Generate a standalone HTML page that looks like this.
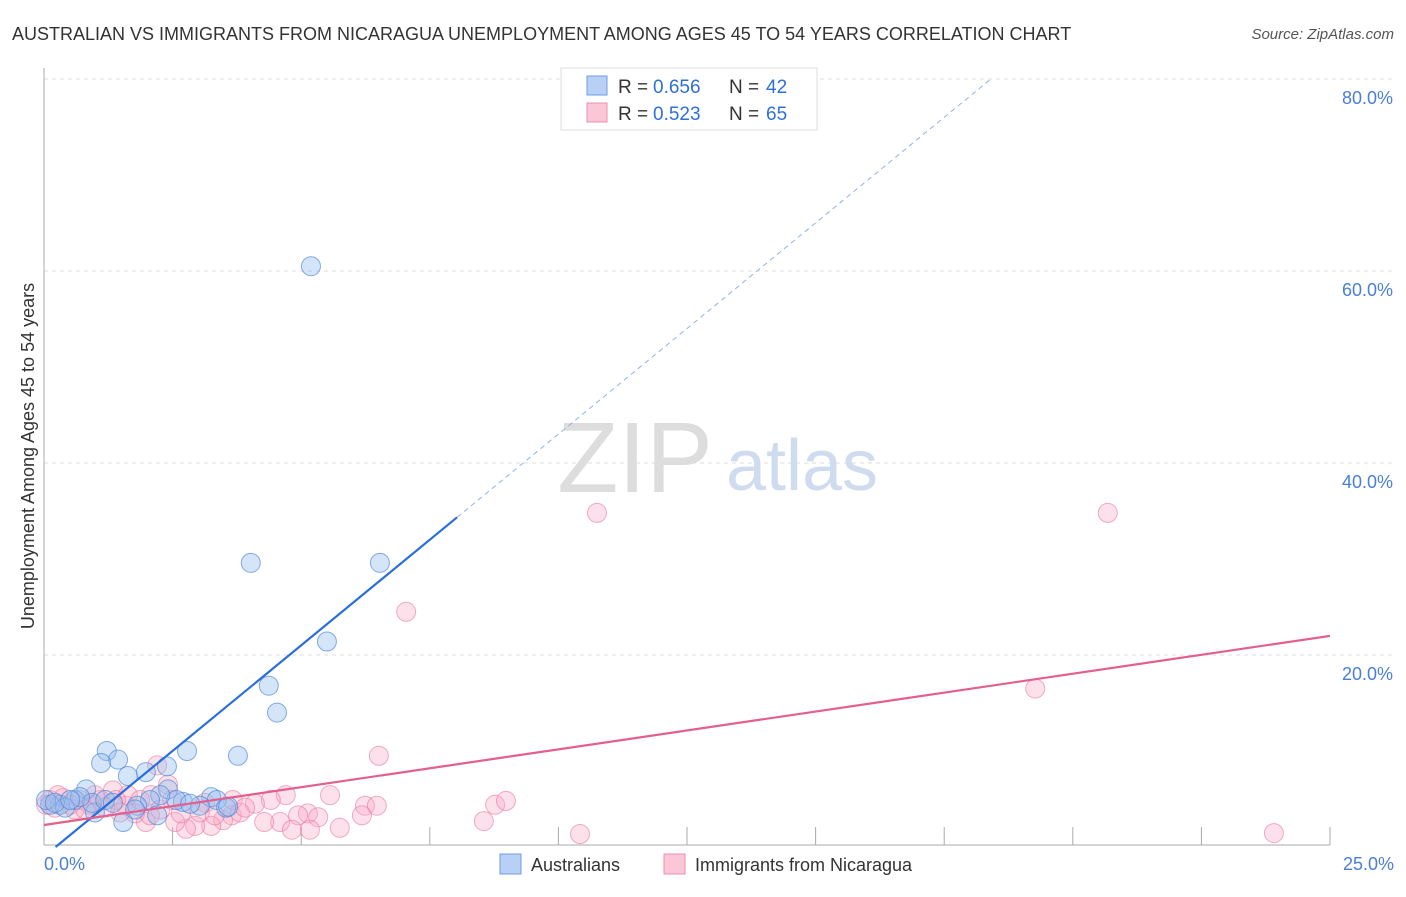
<!DOCTYPE html>
<html><head><meta charset="utf-8"><style>
body{margin:0;background:#fff;font-family:"Liberation Sans",sans-serif;}
svg text{font-family:"Liberation Sans",sans-serif;}
</style></head><body>
<svg width="1406" height="892" id="chart">
<text x="12" y="40" font-size="18" fill="#333">AUSTRALIAN VS IMMIGRANTS FROM NICARAGUA UNEMPLOYMENT AMONG AGES 45 TO 54 YEARS CORRELATION CHART</text>
<text x="1394" y="39" font-size="15" fill="#555" font-style="italic" text-anchor="end">Source: ZipAtlas.com</text>
<g id="grid"></g>
<text x="635" y="492" font-size="100" fill="#ddd" font-family="Liberation Serif" text-anchor="middle">ZIP</text>
<text x="802" y="490" font-size="72" fill="#cfdcef" text-anchor="middle">atlas</text>
<g id="axes"></g>
<g id="marks"></g>
<text x="34" y="456" font-size="18" fill="#333" text-anchor="middle" transform="rotate(-90 34 456)">Unemployment Among Ages 45 to 54 years</text>
<text x="44" y="870" font-size="18" fill="#4a7fd4">0.0%</text>
<text x="1394" y="870" font-size="18" fill="#4a7fd4" text-anchor="end">25.0%</text>
<g>
<rect x="561" y="68" width="256" height="62" fill="#fff" stroke="#ddd"/>
<rect x="587" y="76" width="20" height="19" fill="#b8d0f5" stroke="#6f9de0"/>
<rect x="587" y="103" width="20" height="19" fill="#fbc6d6" stroke="#ee8fae"/>
<text x="618" y="93" font-size="19" fill="#333">R =</text>
<text x="653" y="93" font-size="19" fill="#2f6fd8">0.656</text>
<text x="729" y="93" font-size="19" fill="#333">N =</text>
<text x="766" y="93" font-size="19" fill="#2f6fd8">42</text>
<text x="618" y="120" font-size="19" fill="#333">R =</text>
<text x="653" y="120" font-size="19" fill="#2f6fd8">0.523</text>
<text x="729" y="120" font-size="19" fill="#333">N =</text>
<text x="766" y="120" font-size="19" fill="#2f6fd8">65</text>
</g>
<g>
<rect x="500" y="854" width="21" height="20" fill="#b8d0f5" stroke="#6f9de0"/>
<text x="531" y="871" font-size="18" fill="#333">Australians</text>
<rect x="664" y="854" width="21" height="20" fill="#fbc6d6" stroke="#ee8fae"/>
<text x="695" y="871" font-size="18" fill="#333">Immigrants from Nicaragua</text>
</g>
</svg>
<script>
const yTicks=[20,40,60,80];
const yTickLabels=["20.0%","40.0%","60.0%","80.0%"];
const xTicks=[2.5,5,7.5,10,12.5,15,17.5,20,22.5,25];
const blueX=[5.19,4.02,6.53,5.50,4.37,4.53,3.77,2.78,1.22,1.44,1.11,2.39,1.98,1.63,0.82,2.41,3.25,3.36,3.54,2.70,2.57,2.26,2.06,1.54,2.20,0.99,0.93,0.60,0.31,0.12,0.04,0.41,0.70,1.19,1.34,1.81,3.03,3.58,0.21,0.51,1.77,2.84];
const blueY=[60.5,29.6,29.6,21.4,16.8,14.0,9.5,10.0,10.0,9.1,8.75,8.4,7.8,7.4,6.0,6.0,5.2,4.9,4.1,4.7,4.9,5.4,4.9,2.6,3.3,3.6,4.6,4.9,4.4,4.4,4.9,4.1,5.2,4.9,4.6,4.3,4.3,4.2,4.6,4.9,3.9,4.5];
const pinkX=[10.75,20.68,7.04,19.27,6.51,2.20,2.41,8.77,8.98,8.55,10.42,23.91,5.56,4.70,6.24,6.47,4.41,4.10,5.13,4.94,5.33,4.59,4.82,5.17,5.75,6.18,4.28,3.65,3.48,3.25,2.94,2.76,2.55,1.98,1.77,1.59,1.34,1.63,1.87,1.09,0.70,0.37,0.12,0.04,0.21,0.89,3.13,3.81,2.66,2.08,1.40,0.51,2.26,3.67,1.48,0.60,0.27,0.99,2.06,3.03,3.32,3.91,2.49,1.19,0.80];
const pinkY=[34.8,34.8,24.5,16.5,9.5,8.5,6.5,4.4,4.8,2.7,1.35,1.45,5.4,5.4,4.3,4.3,4.9,4.5,3.5,3.3,3.1,2.6,1.8,1.8,2.0,3.3,2.6,3.3,2.8,2.2,2.2,1.9,2.6,2.6,3.5,4.3,5.9,5.4,4.9,4.9,4.9,5.1,4.9,4.4,4.1,4.4,4.6,3.6,3.5,5.4,4.9,4.4,3.9,4.9,3.6,3.9,5.4,5.4,3.3,3.6,3.3,4.1,4.9,4.1,3.9];
const blueTrend=[-0.99,4.40];
const blueSolidEnd=8.03, blueDashEnd=18.4;
const pinkTrend=[2.29,0.788];
const NS="http://www.w3.org/2000/svg";
const sx=v=>44+v*51.44, sy=v=>847-v*9.6;
function mk(tag,attrs,parent){const e=document.createElementNS(NS,tag);for(const k in attrs)e.setAttribute(k,attrs[k]);document.getElementById(parent).appendChild(e);return e;}
yTicks.forEach((t,i)=>{
 const g=mk('line',{x1:44,x2:1394,y1:sy(t),y2:sy(t),stroke:'#ddd','stroke-dasharray':'4,4'},'grid');
 
 
 const l=mk('text',{x:1393,y:sy(t)+25,'font-size':18,fill:'#4a7fd4','text-anchor':'end'},'grid');
 l.textContent=yTickLabels[i];
 
 
});
const ax=mk('line',{x1:44,x2:44,y1:68,y2:845,stroke:'#aaa'},'axes');


const bx=mk('line',{x1:44,x2:1330,y1:845,y2:845,stroke:'#aaa'},'axes');


xTicks.forEach(t=>{
 const e=mk('line',{x1:sx(t),x2:sx(t),y1:827,y2:845,stroke:'#aaa'},'axes');
 
 
});
function dot(x,y,fill,stroke,name){
 const c=mk('circle',{cx:sx(x),cy:sy(y),r:9.5,fill:fill,stroke:stroke,'stroke-width':1},'marks');
 
 
}
pinkX.forEach((x,i)=>dot(x,pinkY[i],'rgba(248,170,195,0.35)','rgba(230,120,160,0.6)','point-nicaragua'));
blueX.forEach((x,i)=>dot(x,blueY[i],'rgba(150,190,240,0.4)','rgba(70,130,215,0.65)','point-australians'));
const bf=x=>blueTrend[0]+blueTrend[1]*x;
const x0=-blueTrend[0]/blueTrend[1];
const b1=mk('line',{x1:sx(x0),y1:sy(0),x2:sx(blueSolidEnd),y2:sy(bf(blueSolidEnd)),stroke:'#2a6fd8','stroke-width':2.2},'marks');


const b2=mk('line',{x1:sx(blueSolidEnd),y1:sy(bf(blueSolidEnd)),x2:sx(blueDashEnd),y2:sy(bf(blueDashEnd)),stroke:'#8fb2e6','stroke-width':1,'stroke-dasharray':'5,4'},'marks');


const pf=x=>pinkTrend[0]+pinkTrend[1]*x;
const p1=mk('line',{x1:sx(0),y1:sy(pf(0)),x2:sx(25),y2:sy(pf(25)),stroke:'#e45f8c','stroke-width':2.2},'marks');


</script>
</body></html>
